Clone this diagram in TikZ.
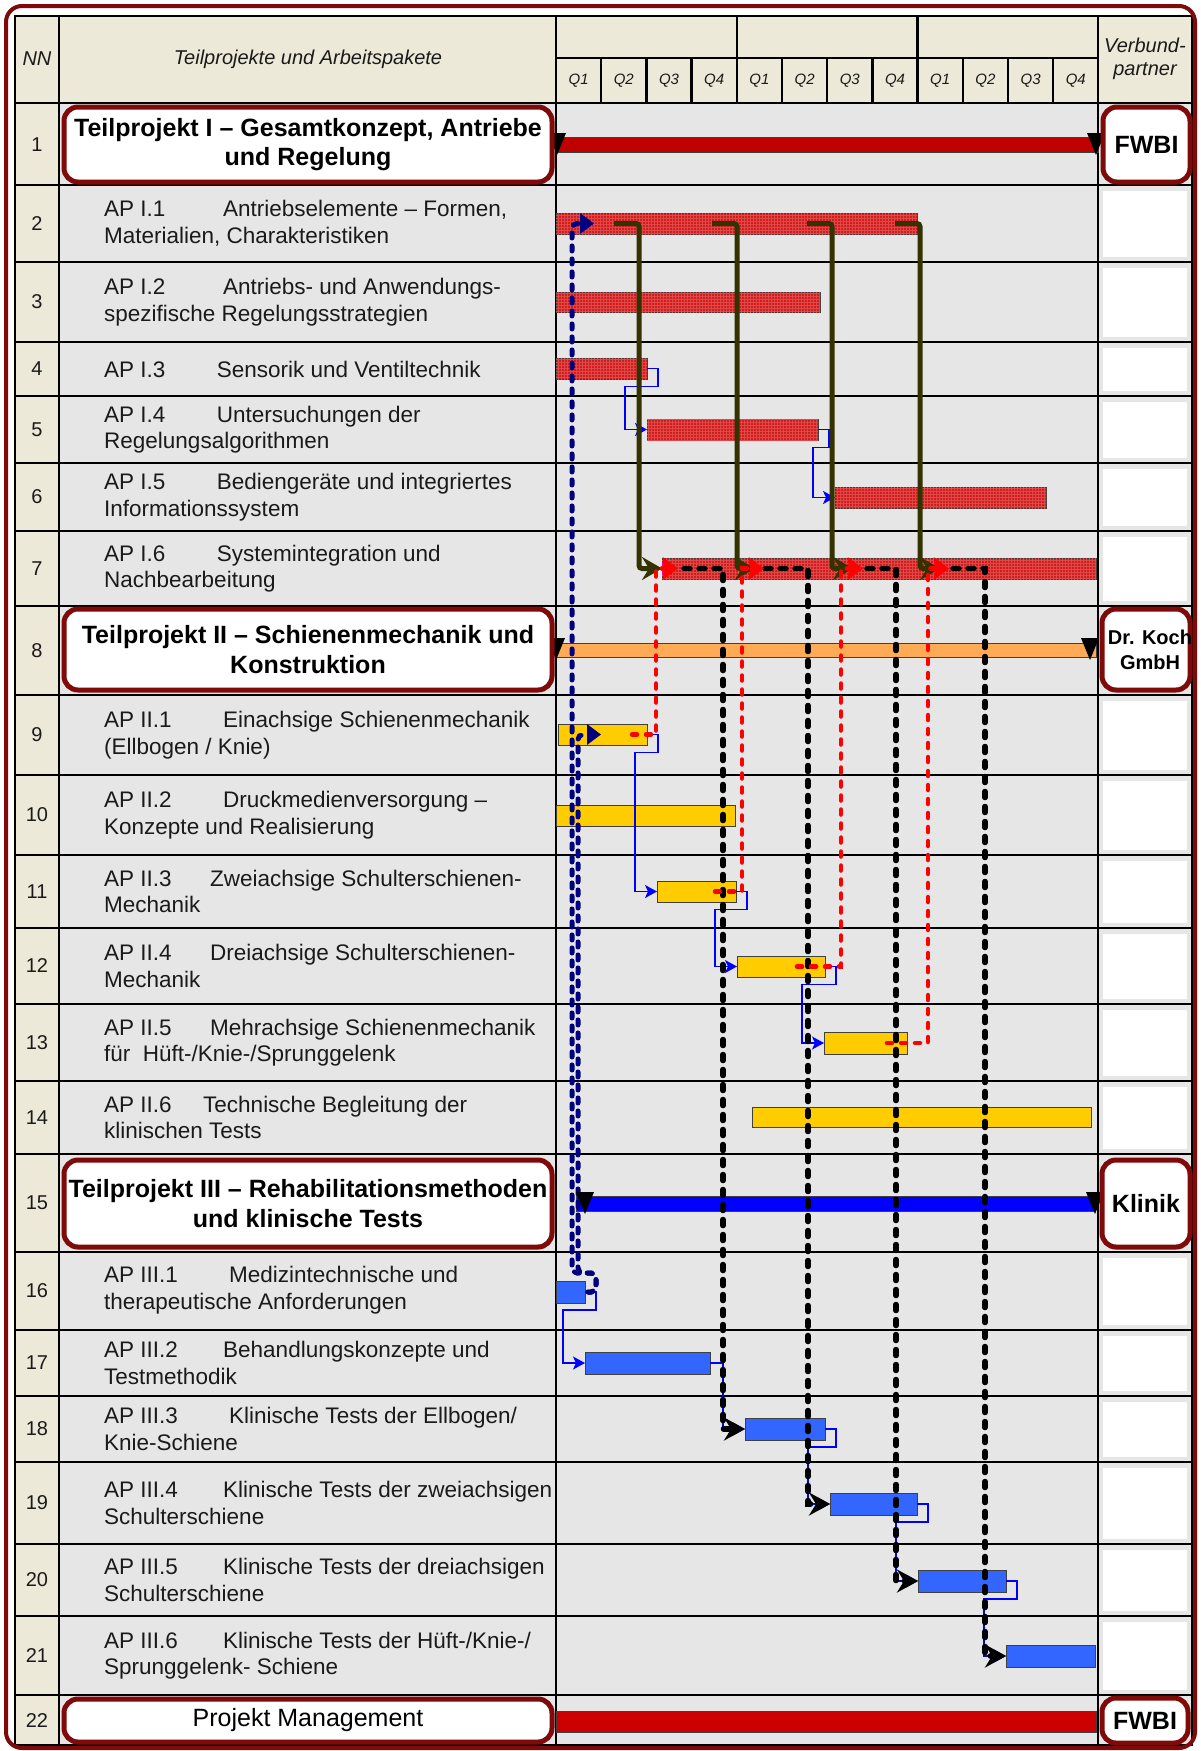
\documentclass[tikz,border=0pt]{standalone}
\usepackage{fontspec}
\setmainfont{Liberation Sans}
\usetikzlibrary{arrows.meta,patterns}
\definecolor{tpred}{HTML}{7F0A0A}
\definecolor{beige}{HTML}{ECE9D8}
\definecolor{cellgray}{HTML}{E6E6E6}
\definecolor{barred}{HTML}{C00000}
\definecolor{pmred}{HTML}{CC0000}
\definecolor{hatchred}{HTML}{D01E1E}
\definecolor{hatchdark}{HTML}{E04848}
\definecolor{orangebar}{HTML}{FFAA55}
\definecolor{yellowbar}{HTML}{FFCC00}
\definecolor{bluebar}{HTML}{3366FF}
\definecolor{tpblue}{HTML}{0000FF}
\definecolor{navyline}{HTML}{000080}
\definecolor{oliveline}{HTML}{333300}
\definecolor{txt}{HTML}{1A1A1A}
\newcommand\ganttbar[6]{\node[bar,#6,minimum width=#3pt,minimum height=#5pt] (#1) at (#2,#4) {};}
\newcommand\aprow[6]{\node[aptext] (#1) at (104,#2) {\makebox[#3pt][l]{#4}#5\\#6};}
\newcommand\aprowone[5]{\node[aptext] (#1) at (104,#2) {\makebox[#3pt][l]{#4}#5};}
\newcommand\milestone[2]{\fill[black] (#1-9,#2-22) -- (#1+9,#2-22) -- (#1,#2) -- cycle;}
\newcommand\fslink[2]{\draw[thinlink] (#1.east) -- ++(11,0) -- ++(0,18) -| ([xshift=-22pt]#2.west) -- (#2.west);}
\begin{document}
\begin{tikzpicture}[x=1pt,y=-1pt,
 gridline/.style={line width=2.5pt, black},
 aptext/.style={anchor=west, align=left, inner sep=0pt, text=txt, font=\fontsize{22.5}{26.5}\selectfont},
 nntext/.style={inner sep=0pt, text=txt, font=\fontsize{20}{24}\selectfont},
 hdrtext/.style={inner sep=0pt, text=txt, align=center, font=\fontsize{20}{23}\selectfont\itshape},
 qlab/.style={inner sep=0pt, text=txt, font=\fontsize{15}{18}\selectfont\itshape},
 tpbox/.style={draw=tpred, line width=5pt, rounded corners=14pt, fill=white, inner sep=0pt, align=center, text=black, font=\fontsize{25}{29.5}\selectfont\bfseries},
 pmbox/.style={tpbox, font=\fontsize{25}{29.5}\selectfont},
 bar/.style={draw=black!75, line width=1pt, inner sep=0pt, outer sep=0pt, anchor=west},
 hatch/.style={fill=hatchred, postaction={pattern=grid, pattern color=hatchdark}},
 thinlink/.style={draw=blue, line width=1.6pt, -{Stealth[length=12pt,width=13pt,inset=3pt]}},
 navylink/.style={draw=navyline, line width=5pt, line cap=round, dash pattern=on 5pt off 8pt, rounded corners=5pt, -{Triangle[length=14pt,width=20pt]}},
 olivelink/.style={draw=oliveline, line width=5pt, rounded corners=3pt, -{Stealth[length=20pt,width=23pt,inset=7pt]}},
 redlink/.style={draw=red, line width=4.5pt, line cap=round, dash pattern=on 5pt off 9pt, -{Stealth[length=15pt,width=22pt,inset=1pt]}},
 blacklink/.style={draw=black, line width=5.5pt, line cap=round, dash pattern=on 6pt off 9pt, -{Stealth[length=21pt,width=23pt,inset=7pt]}},
]
\useasboundingbox (0,0) rectangle (1200,1751);
\fill[white] (0,0) rectangle (1200,1751);
% cell backgrounds
\fill[beige] (15,16) rectangle (1192,103);
\fill[beige] (15,103) rectangle (59,1745);
\fill[cellgray] (59,103) rectangle (1192,1745);
% white insets in partner column
\foreach \ta/\tb in {185/262,262/342,342/396,396/463,463/531,531/606,695/775,775/855,855/928,928/1004,1004/1081,1081/1154,1252/1330,1330/1396,1396/1462,1462/1544,1544/1616,1616/1695}
  \fill[white] (1103,\ta+6) rectangle (1187,\tb-5);
% grid
\foreach \yy in {103,185,262,342,396,463,531,606,695,775,855,928,1004,1081,1154,1252,1330,1396,1462,1544,1616,1695}
  \draw[gridline] (15,\yy) -- (1192,\yy);
\draw[gridline] (556,58) -- (1098,58);
\foreach \i in {1,2,3,5,6,7,9,10,11}
  \draw[gridline] ({556+45.2*\i},58) -- ({556+45.2*\i},103);
\foreach \i in {4,8}
  \draw[gridline] ({556+45.2*\i},16) -- ({556+45.2*\i},103);
\foreach \xx in {59,556,1098}
  \draw[gridline] (\xx,16) -- (\xx,1745);
\draw[gridline] (15,16) rectangle (1192,1745);
% outer frame
\draw[tpred, line width=4pt, rounded corners=16pt] (6,6) rectangle (1195,1748);
% header text
\node[hdrtext] (hnn) at (37,59) {NN};
\node[hdrtext] (htp) at (308,59) {Teilprojekte und Arbeitspakete};
\node[hdrtext] (hvp) at (1145,58.5) {Verbund-\\partner};
\foreach \i in {0,...,11}{
  \pgfmathtruncatemacro\qq{mod(\i,4)+1}
  \node[qlab] (q\i) at ({556+45.2*(\i+0.5)},81) {Q\qq};
}
% row numbers
\foreach \n/\yy in {1/144.5,2/223.5,3/302,4/369,5/429.5,6/497,7/568.5,8/650.5,9/735,10/815,11/891.5,12/966,13/1042.5,14/1117.5,15/1203,16/1291,17/1363,18/1429,19/1503,20/1580,21/1655.5,22/1720}
  \node[nntext] (nn\n) at (37,\yy) {\n};
% work package texts
\aprow{t2}{223.5}{119}{AP I.1}{Antriebselemente – Formen,}{Materialien, Charakteristiken}
\aprow{t3}{302}{119}{AP I.2}{Antriebs- und Anwendungs-}{spezifische Regelungsstrategien}
\aprowone{t4}{369}{112.6}{AP I.3}{Sensorik und Ventiltechnik}
\aprow{t5}{429.5}{112.6}{AP I.4}{Untersuchungen der}{Regelungsalgorithmen}
\aprow{t6}{497}{112.6}{AP I.5}{Bediengeräte und integriertes}{Informationssystem}
\aprow{t7}{568.5}{112.6}{AP I.6}{Systemintegration und}{Nachbearbeitung}
\aprow{t9}{735}{119}{AP II.1}{Einachsige Schienenmechanik}{(Ellbogen / Knie)}
\aprow{t10}{815}{119}{AP II.2}{Druckmedienversorgung –}{Konzepte und Realisierung}
\aprow{t11}{891.5}{106}{AP II.3}{Zweiachsige Schulterschienen-}{Mechanik}
\aprow{t12}{966}{106}{AP II.4}{Dreiachsige Schulterschienen-}{Mechanik}
\aprow{t13}{1042.5}{106}{AP II.5}{Mehrachsige Schienenmechanik}{für\ \ Hüft-/Knie-/Sprunggelenk}
\aprow{t14}{1117.5}{99}{AP II.6}{Technische Begleitung der}{klinischen Tests}
\aprow{t16}{1290}{125}{AP III.1}{Medizintechnische und}{therapeutische Anforderungen}
\aprow{t17}{1363}{119}{AP III.2}{Behandlungskonzepte und}{Testmethodik}
\aprow{t18}{1429}{125}{AP III.3}{Klinische Tests der Ellbogen/}{Knie-Schiene}
\aprow{t19}{1503}{119}{AP III.4}{Klinische Tests der zweiachsigen}{Schulterschiene}
\aprow{t20}{1580}{119}{AP III.5}{Klinische Tests der dreiachsigen}{Schulterschiene}
\aprow{t21}{1655.5}{119}{AP III.6}{Klinische Tests der Hüft-/Knie-/}{Sprunggelenk- Schiene}
% bars
\ganttbar{b1}{556}{542}{144.5}{15}{fill=barred}
\ganttbar{b2}{556}{361}{223.5}{21}{hatch}
\ganttbar{b3}{556}{264}{302}{20}{hatch}
\ganttbar{b4}{556}{91}{368.5}{21}{hatch}
\ganttbar{b5}{647}{171}{429.5}{21}{hatch}
\ganttbar{b6}{835}{211}{497.5}{21}{hatch}
\ganttbar{b7}{662}{434}{568.5}{21}{hatch}
\ganttbar{b8}{556}{540}{650}{14}{fill=orangebar}
\ganttbar{b9}{558}{89}{734.5}{21}{fill=yellowbar}
\ganttbar{b10}{556}{179}{815.5}{21}{fill=yellowbar}
\ganttbar{b11}{657}{79}{891.5}{21}{fill=yellowbar}
\ganttbar{b12}{737}{88}{966.5}{21}{fill=yellowbar}
\ganttbar{b13}{824}{83}{1043}{22}{fill=yellowbar}
\ganttbar{b14}{752}{339}{1117}{20}{fill=yellowbar}
\ganttbar{b15}{576}{519}{1203.5}{15}{fill=tpblue}
\ganttbar{b16}{556}{29}{1292}{22}{fill=bluebar}
\ganttbar{b17}{585}{125}{1363}{22}{fill=bluebar}
\ganttbar{b18}{745}{80}{1429}{22}{fill=bluebar}
\ganttbar{b19}{830}{87}{1504}{22}{fill=bluebar}
\ganttbar{b20}{918}{88}{1581}{22}{fill=bluebar}
\ganttbar{b21}{1006}{89}{1656}{22}{fill=bluebar}
\ganttbar{b22}{556}{540}{1721.5}{21}{fill=pmred}
\fill[magenta] (662,562) rectangle (667,575);
% thin finish-to-start links
\fslink{b4}{b5}
\fslink{b5}{b6}
\fslink{b9}{b11}
\fslink{b11}{b12}
\fslink{b12}{b13}
\fslink{b16}{b17}
\draw[thinlink] (b17.east) -- ++(13,0) |- (b18.west);
\fslink{b18}{b19}
\fslink{b19}{b20}
\fslink{b20}{b21}
% navy dotted links
\draw[navylink] ([xshift=3pt]b16.east) -- ++(8,0) -- ++(0,-19) -- ++(-24,0) |- ([xshift=38pt]b2.west);
\draw[navylink] ([xshift=3pt]b16.east) -- ++(8,0) -- ++(0,-19) -- ++(-18,0) |- ([xshift=43pt]b9.west);
% olive links
\draw[olivelink] ([xshift=58pt]b2.west) -- ++(25,0) |- (b7.west);
\draw[olivelink] ([xshift=156pt]b2.west) -- ++(25,0) |- ([xshift=93pt]b7.west);
\draw[olivelink] ([xshift=251pt]b2.west) -- ++(25,0) |- ([xshift=191pt]b7.west);
\draw[olivelink] ([xshift=339pt]b2.west) -- ++(25,0) |- ([xshift=278pt]b7.west);
% black dashed links
\draw[blacklink] ([xshift=22pt]b7.west) -| ([xshift=-22pt]b18.west) -- (b18.west);
\draw[blacklink] ([xshift=103pt]b7.west) -| ([xshift=-22pt]b19.west) -- (b19.west);
\draw[blacklink] ([xshift=205pt]b7.west) -| ([xshift=-22pt]b20.west) -- (b20.west);
\draw[blacklink] ([xshift=291pt]b7.west) -| ([xshift=-21pt]b21.west) -- (b21.west);
% red dashed links
\draw[redlink] ([xshift=-15pt]b9.east) -- ++(24,0) |- ([xshift=16pt]b7.west);
\draw[redlink] ([xshift=-21pt]b11.east) -- ++(27,0) |- ([xshift=102pt]b7.west);
\draw[redlink] ([xshift=-28pt]b12.east) -- ++(44,0) |- ([xshift=201pt]b7.west);
\draw[redlink] ([xshift=-20pt]b13.east) -- ++(41,0) |- ([xshift=287pt]b7.west);
% milestones
\milestone{557}{155}
\milestone{1096}{155}
\milestone{556}{660}
\milestone{1090}{660}
\milestone{585}{1214}
\milestone{1095}{1214}
% sub-project boxes
\node[tpbox, minimum width=488pt, minimum height=75pt] (tp1) at (308,144.5) {Teilprojekt I – Gesamtkonzept, Antriebe\\und Regelung};
\node[tpbox, minimum width=488pt, minimum height=81pt] (tp2) at (308,649.5) {Teilprojekt II – Schienenmechanik und\\Konstruktion};
\node[tpbox, minimum width=488pt, minimum height=87pt] (tp3) at (308,1203.5) {Teilprojekt III – Rehabilitationsmethoden\\und klinische Tests};
\node[pmbox, minimum width=488pt, minimum height=43pt] (pm) at (308,1720.5) {Projekt Management};
% partner boxes
\node[tpbox, minimum width=87pt, minimum height=75pt] (p1) at (1146.5,144.5) {FWBI};
\node[tpbox, minimum width=88pt, minimum height=81pt] (p2) at (1146,649.5) {};
\node[inner sep=0pt, align=center, font=\fontsize{20}{25}\selectfont\bfseries] (p2t) at (1150,649.5) {Dr. Koch\\GmbH};
\node[tpbox, minimum width=88pt, minimum height=87pt] (p3) at (1146,1203.5) {Klinik};
\node[tpbox, minimum width=86pt, minimum height=45pt] (p4) at (1145,1720.5) {FWBI};
\end{tikzpicture}
\end{document}
